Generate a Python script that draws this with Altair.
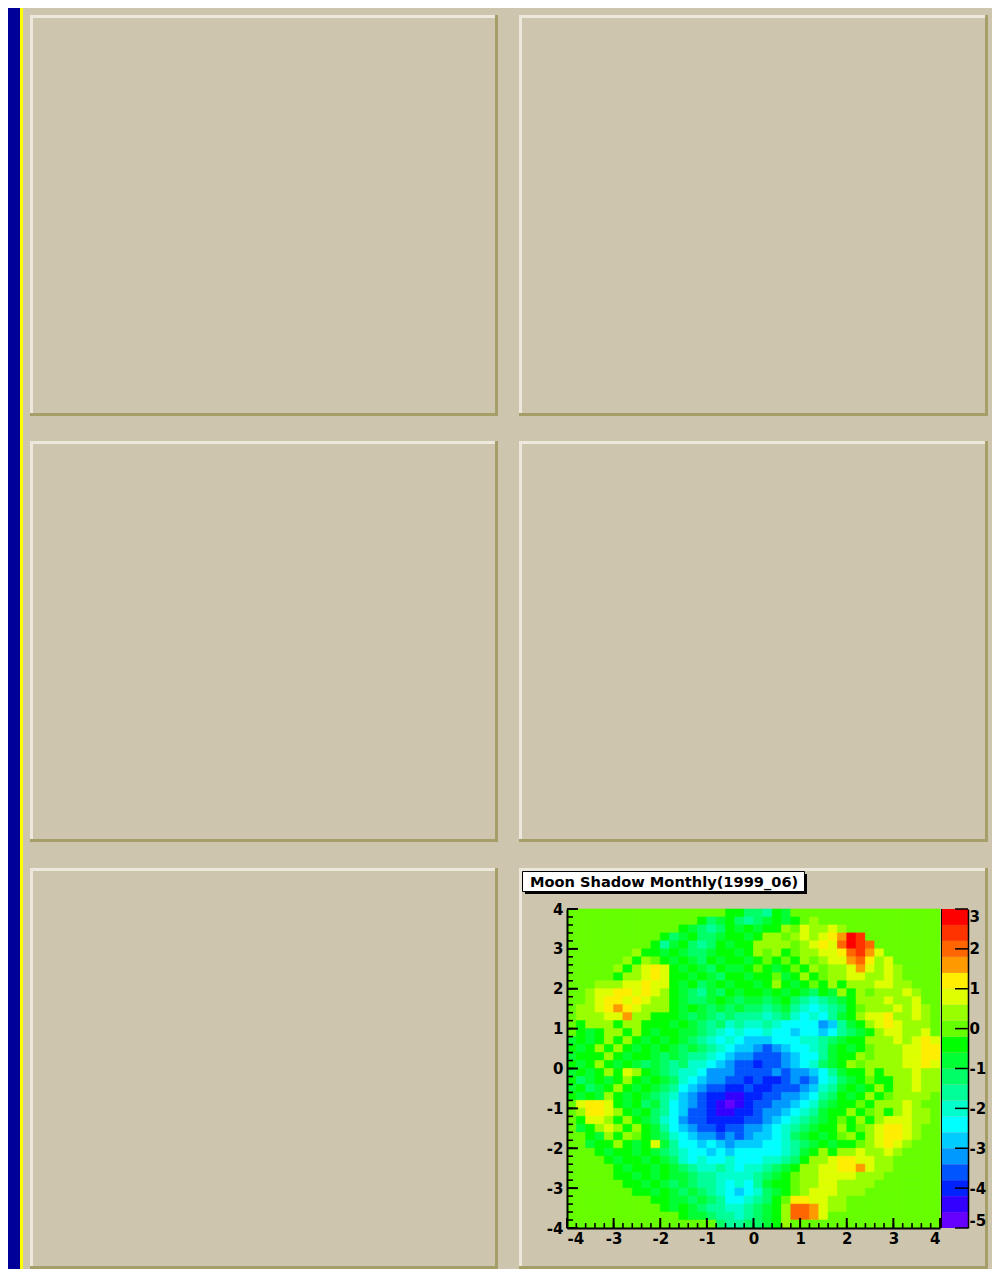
import altair as alt
import pandas as pd

# ---------------- data ----------------
TITLE = "Moon Shadow Monthly(1999_06)"
X_RANGE = [-4.0, 4.0]
Y_RANGE = [-4.0, 4.0]
Z_RANGE = [-5.0, 3.0]

# 20 colour levels of the histogram, lowest first; one character per level
LEVEL_CHARS = "0123456789ABCDEFGHIJ"
PALETTE = [
    "#6600ff", "#3300ff", "#0022ff", "#0055ff", "#0099ff",
    "#00ccff", "#00ffff", "#00ffcc", "#00ff99", "#00ff66",
    "#00ff33", "#00ff00", "#66ff00", "#99ff00", "#ddff00",
    "#ffee00", "#ff9900", "#ff6600", "#ff3300", "#ff0000",
]

# histogram cells, top row (y=+4) first, x from -4 to +4
ROWS = [
    "CCCCCCCCCC" "CCCCCCCBB9" "98BACCCCCC" "CCCCCCCCCC",
    "CCCCCCCCCC" "CCCCB9AB98" "9ABABCDCCC" "CCCCCCCCCC",
    "CCCCCCCCCC" "CCBA989BAB" "ABBDCEDDED" "CCCCCCCCCC",
    "CCCCCCCCCC" "B9AB99ABBA" "BDDCDEDEFG" "JICCCCCCCC",
    "CCCCCCCCCB" "8AB989BABB" "DDDDCDEFEH" "JIHCCCCCCC",
    "CCCCCCCDBB" "ABA99ABBAB" "DCDBCDDEEF" "HIGECCCCCC",
    "CCCCCCDBDC" "BABA9BABBA" "BCBCBDCDEE" "GHFDECCCCC",
    "CCCCCDBDEF" "EBABA9BAAB" "CBABCBDCDD" "EGEDEDCCCC",
    "CCCCCBDDEF" "EBBABA9BBA" "BBCABDBCDD" "EEDDEDCCCC",
    "CCCDDDEEFE" "EBAB9ABABB" "ABDBABCBDB" "DDDEEDDCCC",
    "CCDEEFFEFE" "DBA98A9BAB" "BABABA9BAD" "BDCDDDEDCC",
    "CCDEFFEFED" "DBA99ABA9A" "A9AB98789A" "BDDDEDDECC",
    "CDDEFGFEDD" "DBABA9A9A9" "989A876789" "BCDDDEDEDC",
    "CDDDEEGDDB" "BBA9A98988" "878976768A" "BDEEFDDEDC",
    "CBDDDBDDBB" "BABA989787" "7876666458" "ABDEFEDDDC",
    "CBABDDBDBA" "BBAA987676" "6766566568" "9ABDEEDDEC",
    "ABABDBDBAB" "ABA9876765" "556667789A" "BBDDDEDEFE",
    "BABDBDBABA" "BA9A987655" "43456678AB" "ABCDDDEEFF",
    "ABBBDBABBA" "9A98876544" "33345668AB" "BDCDDDEEFF",
    "BABDBABA9A" "9897765433" "23345679AB" "DCDDDDEEFE",
    "ABABDBEDBA" "9877644433" "334344568A" "BBDBDDDEDD",
    "B9ABABDBAB" "A976544332" "3223434679" "ABCBBDDEDD",
    "AB9ABDBABA" "9865433223" "223334578A" "BABDBDDEDD",
    "BABADBABA9" "8754322112" "233445689B" "ABDBCDDDDC",
    "CEFFEBAB9A" "8654321012" "33445679AB" "BCBDDDEDCC",
    "CDFFEDBAB9" "8653321122" "3445678ABB" "DBCDBDEDDC",
    "CBEEDBDBA9" "7643322223" "3456789ABC" "BDBDEEEDDC",
    "CABDEDBDBA" "8654332334" "456789ABBD" "BCDEFFEDCC",
    "CCBADBDCBA" "9765443434" "55679ABABC" "DBDEFFEDCC",
    "CCABBDBABE" "A866565455" "566789ABAB" "BCDEFEDCCC",
    "CCCBABBABA" "9876656566" "66678ABDBD" "DEDDEDCCCC",
    "CCCCBABBAB" "A976766766" "67789BDDEF" "FEEDDCCCCC",
    "CCCCCBABBA" "BA98778767" "789ABDDEEF" "FGEDDCCCCC",
    "CCCCCBBABA" "BAA9887777" "89ABCDDEEE" "EDDDCCCCCC",
    "CCCCCCBBAB" "A9A9887676" "8ABBCDDEED" "DDDCCCCCCC",
    "CCCCCCCBBA" "BA9A987656" "79ABCDEEED" "DDCCCCCCCC",
    "CCCCCCCCCB" "BAA9A98667" "89BCFFEEDD" "CCCCCCCCCC",
    "CCCCCCCCCC" "BABA988778" "9ABDHHGEDD" "CCCCCCCCCC",
    "CCCCCCCCCC" "CCBAA98878" "9ABDHHGECC" "CCCCCCCCCC",
    "CCCCCCCCCC" "CCCCCC9889" "9ABDCCCCCC" "CCCCCCCCCC",
]

X_MAJOR = [-4, -3, -2, -1, 0, 1, 2, 3, 4]
Y_MAJOR = [-4, -3, -2, -1, 0, 1, 2, 3, 4]
Z_MAJOR = [-5, -4, -3, -2, -1, 0, 1, 2, 3]
MINOR_TICKS = [round(-4 + 0.2 * k, 1) for k in range(41)]

# ---------------- style / layout ----------------
TAN = "#cdc5ad"
LIGHT = "#ece8dc"
DARK = "#a69e68"
NAVY = "#000099"
YELLOW = "#ffff00"
FONT = "DejaVu Sans"

OX, OY = 567, 909          # page position of the plot area's top-left corner
W, H = 373, 319            # plot area
TOTAL_W, TOTAL_H = 984, 1261


def cx(px):
    return px - OX


def cy(py):
    return py - OY


N_COLS = 40
n_rows = len(ROWS)
dx = (X_RANGE[1] - X_RANGE[0]) / N_COLS
dy = (Y_RANGE[1] - Y_RANGE[0]) / n_rows
dz = (Z_RANGE[1] - Z_RANGE[0]) / len(LEVEL_CHARS)

records = []
for j, row in enumerate(ROWS):
    row = row.ljust(N_COLS, "C")[:N_COLS]
    for i, ch in enumerate(row):
        lvl = LEVEL_CHARS.index(ch)
        records.append({
            "x0": X_RANGE[0] + i * dx, "x1": X_RANGE[0] + (i + 1) * dx,
            "y1": Y_RANGE[1] - j * dy, "y0": Y_RANGE[1] - (j + 1) * dy,
            "z": Z_RANGE[0] + (lvl + 0.5) * dz,
        })
hist = pd.DataFrame(records)

bands = pd.DataFrame({
    "lo": [Z_RANGE[0] + k * dz for k in range(len(PALETTE))],
    "hi": [Z_RANGE[0] + (k + 1) * dz for k in range(len(PALETTE))],
    "z": [Z_RANGE[0] + (k + 0.5) * dz for k in range(len(PALETTE))],
})

ONE = pd.DataFrame({"k": [0]})

zcolor = alt.Scale(type="quantize", domain=Z_RANGE, range=PALETTE, nice=False)
xscale = alt.Scale(domain=X_RANGE, nice=False, zero=False)
yscale = alt.Scale(domain=Y_RANGE, nice=False, zero=False)
zscale_y = alt.Scale(domain=Z_RANGE, nice=False, zero=False)

axis_common = dict(
    grid=False, ticks=False, tickSize=0, domainColor="black",
    labelFont=FONT, labelFontWeight="bold", labelFontSize=15,
    labelColor="black", title=None, zindex=2, labelOverlap=False,
    labelExpr="datum.value",
)


def box(x0, y0, x1, y1, fill, stroke=None, sw=0):
    kw = dict(fill=fill, strokeWidth=sw)
    if stroke:
        kw["stroke"] = stroke
    return alt.Chart(ONE).mark_rect(**kw).encode(
        x=alt.value(cx(x0)), x2=alt.value(cx(x1)),
        y=alt.value(cy(y0)), y2=alt.value(cy(y1)),
    )


layers = []
# slide background strip on the left
layers.append(box(8, 8, 20, 8 + TOTAL_H, NAVY))
layers.append(box(20, 8, 23, 8 + TOTAL_H, YELLOW))

# six bevelled pads
PAD_COLS = [(30, 498), (519, 988)]
PAD_ROWS = [(15, 416), (441, 842), (868, 1269)]
B = 3
for (py0, py1) in PAD_ROWS:
    for (px0, px1) in PAD_COLS:
        layers.append(box(px0, py0, px1, py1, DARK))
        layers.append(box(px0, py0, px1 - B, py1 - B, LIGHT))
        layers.append(box(px0 + B, py0 + B, px1 - B, py1 - B, TAN))

# the histogram
heat = alt.Chart(hist).mark_rect(strokeWidth=0.6).encode(
    x=alt.X("x0:Q", scale=xscale,
            axis=alt.Axis(orient="bottom", values=X_MAJOR, labelPadding=3,
                          domainWidth=2, **axis_common)),
    x2="x1:Q",
    y=alt.Y("y0:Q", scale=yscale,
            axis=alt.Axis(orient="left", values=Y_MAJOR, labelPadding=4,
                          domainWidth=2, **axis_common)),
    y2="y1:Q",
    color=alt.Color("z:Q", scale=zcolor, legend=None),
    stroke=alt.Stroke("z:Q", scale=zcolor, legend=None),
)
layers.append(heat)

# colour bar
cbar = alt.Chart(bands).mark_rect().encode(
    x=alt.value(W + 2), x2=alt.value(W + 28),
    y=alt.Y("lo:Q", scale=zscale_y,
            axis=alt.Axis(orient="right", offset=28, values=Z_MAJOR,
                          labelPadding=1, labelFlush=True, domainWidth=1.5,
                          **axis_common)),
    y2="hi:Q",
    color=alt.Color("z:Q", scale=zcolor, legend=None),
)
layers.append(cbar)
layers.append(alt.Chart(ONE).mark_rule(color="black", strokeWidth=1).encode(
    x=alt.value(W + 1.5), y=alt.value(0), y2=alt.value(H)))

# ticks (ROOT style, pointing inwards)
layers.append(alt.Chart(pd.DataFrame({"t": MINOR_TICKS})).mark_rule(color="black", strokeWidth=1.6).encode(
    x=alt.X("t:Q", scale=xscale, axis=None), y=alt.value(H), y2=alt.value(H - 5)))
layers.append(alt.Chart(pd.DataFrame({"t": X_MAJOR})).mark_rule(color="black", strokeWidth=2).encode(
    x=alt.X("t:Q", scale=xscale, axis=None), y=alt.value(H), y2=alt.value(H - 10)))
layers.append(alt.Chart(pd.DataFrame({"t": MINOR_TICKS})).mark_rule(color="black", strokeWidth=1.6).encode(
    y=alt.Y("t:Q", scale=yscale, axis=None), x=alt.value(0), x2=alt.value(6)))
layers.append(alt.Chart(pd.DataFrame({"t": Y_MAJOR})).mark_rule(color="black", strokeWidth=2).encode(
    y=alt.Y("t:Q", scale=yscale, axis=None), x=alt.value(0), x2=alt.value(11)))
layers.append(alt.Chart(pd.DataFrame({"t": Z_MAJOR})).mark_rule(color="black", strokeWidth=1.5).encode(
    y=alt.Y("t:Q", scale=zscale_y, axis=None), x=alt.value(W + 15), x2=alt.value(W + 28)))

# title box
layers.append(box(525, 874, 807, 894, "black"))
layers.append(box(522.5, 871.5, 804.5, 891.5, "white", stroke="black", sw=1))
layers.append(alt.Chart(ONE).mark_text(
    align="left", baseline="alphabetic", font=FONT, fontWeight="bold",
    fontSize=14.6, color="black").encode(
    x=alt.value(cx(530)), y=alt.value(cy(887)), text=alt.value(TITLE)))

chart = alt.layer(*layers).resolve_scale(
    x="independent", y="independent"
).properties(
    width=W, height=H,
    padding={"left": OX - 8, "top": OY - 8,
             "right": TOTAL_W - (OX - 8) - W, "bottom": TOTAL_H - (OY - 8) - H},
    autosize=alt.AutoSizeParams(type="none"),
    background=TAN,
).configure_view(stroke=None)

chart.save("out.html", embed_options={"renderer": "svg", "actions": False})
